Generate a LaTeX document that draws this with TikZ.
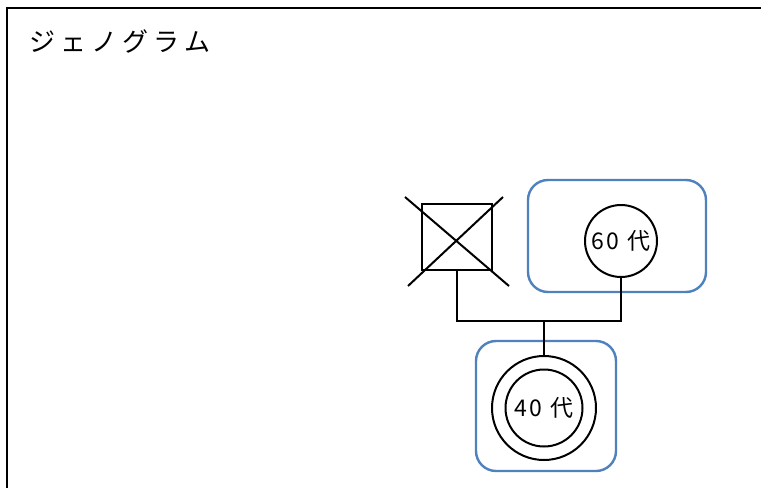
\documentclass[tikz,border=0pt]{standalone}
\usepackage{fontspec}
\usetikzlibrary{calc}
\newfontfamily\jplabel[LetterSpace=12]{Noto Sans CJK JP}
\newfontfamily\jptitle[LetterSpace=20]{Noto Sans CJK JP}
\definecolor{houseblue}{HTML}{4F81BD}
\tikzset{
  line/.style={line width=2pt, black},
  household/.style={draw=houseblue, line width=2.4pt, rounded corners=20pt, inner sep=0pt},
  person/.style={draw, line width=2pt, inner sep=0pt, font=\jplabel\fontsize{23}{23}\selectfont},
}
\begin{document}
\begin{tikzpicture}[x=1pt, y=-1pt]
\useasboundingbox (0,0) rectangle (761,488);
% outer frame (open to the right and bottom)
\draw[line width=2pt] (7,488) -- (7,8) -- (761,8);
% title
\node[anchor=base west, inner sep=0pt, font=\jptitle\fontsize{26}{26}\selectfont] (title) at (29,51) {ジェノグラム};

% household boundaries
\node[household, minimum width=178pt, minimum height=112pt] (houseA) at (617,236) {};
\node[household, minimum width=140pt, minimum height=130pt] (houseB) at (546,406) {};

% deceased male
\node[person, rectangle, minimum width=70pt, minimum height=66pt] (father) at (457,237) {};
\draw[line] ($(father.north west)+(-16,-6)$) -- ($(father.south east)+(16,15)$);
\draw[line] ($(father.north east)+(10,-6)$) -- ($(father.south west)+(-13,15)$);

% female, sixties
\node[person, circle, minimum size=72pt] (mother) at (621,241) {60 代};

% client: female, forties (double circle)
\node[person, circle, minimum size=104pt] (clientouter) at (544,408) {};
\node[person, circle, minimum size=77pt] (client) at (clientouter.center) {40 代};

% marriage line and child line
\coordinate (bar) at (0,321);
\draw[line] (father.south) |- (bar -| mother.south) -- (mother.south);
\draw[line] (clientouter.north) -- (clientouter.north |- bar);
\end{tikzpicture}
\end{document}
